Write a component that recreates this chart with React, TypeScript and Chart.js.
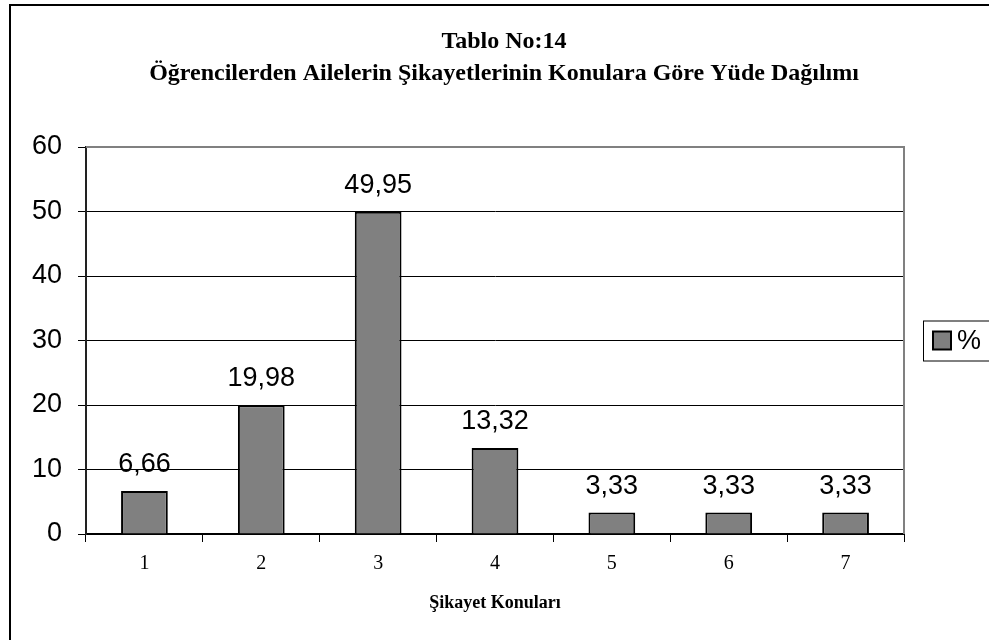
import React, { useEffect, useRef } from 'react';
import { Chart, registerables } from 'chart.js';

Chart.register(...registerables);

const categories = ['1', '2', '3', '4', '5', '6', '7'];
const values = [6.66, 19.98, 49.95, 13.32, 3.33, 3.33, 3.33];
const valueLabels = ['6,66', '19,98', '49,95', '13,32', '3,33', '3,33', '3,33'];
const seriesLabel = '%';
const titleLines = ['Tablo No:14', 'Öğrencilerden Ailelerin Şikayetlerinin Konulara Göre Yüde Dağılımı'];
const xAxisTitle = 'Şikayet Konuları';
const yMin = 0;
const yMax = 60;
const yStep = 10;

const SANS = '"Liberation Sans", Arial, sans-serif';
const SERIF = '"Liberation Serif", "Times New Roman", serif';

const extrasPlugin = {
  id: 'extras',
  beforeDatasetsDraw(chart: any) {
    const { ctx, chartArea } = chart;
    ctx.save();
    ctx.strokeStyle = '#808080';
    ctx.lineWidth = 2;
    ctx.beginPath();
    ctx.moveTo(chartArea.left, chartArea.top);
    ctx.lineTo(chartArea.right, chartArea.top);
    ctx.lineTo(chartArea.right, chartArea.bottom);
    ctx.stroke();
    ctx.restore();
  },
  afterDatasetsDraw(chart: any) {
    const { ctx } = chart;
    const meta = chart.getDatasetMeta(0);
    ctx.save();
    ctx.fillStyle = '#000';
    ctx.font = `27px ${SANS}`;
    ctx.textAlign = 'center';
    ctx.textBaseline = 'alphabetic';
    meta.data.forEach((bar: any, i: number) => {
      ctx.fillText(valueLabels[i], bar.x, bar.y - 19);
    });
    ctx.restore();
  },
  afterDraw(chart: any) {
    const { ctx, chartArea } = chart;
    const cy = (chartArea.top + chartArea.bottom) / 2;
    const bx = chartArea.right + 19;
    const by = cy - 20;
    ctx.save();
    ctx.strokeStyle = '#000';
    ctx.lineWidth = 1;
    ctx.strokeRect(bx + 0.5, by + 0.5, 120, 40);
    ctx.fillStyle = '#808080';
    ctx.fillRect(bx + 10, by + 11, 18, 18);
    ctx.lineWidth = 2;
    ctx.strokeRect(bx + 10, by + 11, 18, 18);
    ctx.fillStyle = '#000';
    ctx.font = `27px ${SANS}`;
    ctx.textAlign = 'left';
    ctx.textBaseline = 'middle';
    ctx.fillText(chart.data.datasets[0].label, bx + 34, by + 21);
    ctx.restore();
  },
};

export default function App() {
  const canvasRef = useRef<HTMLCanvasElement | null>(null);

  useEffect(() => {
    document.body.style.margin = '0';
    document.body.style.overflow = 'hidden';
    const canvas = canvasRef.current;
    if (!canvas) return;
    const chart = new Chart(canvas, {
      type: 'bar',
      data: {
        labels: categories,
        datasets: [
          {
            label: seriesLabel,
            data: values,
            backgroundColor: '#808080',
            borderColor: '#000',
            borderWidth: 2,
            barPercentage: 0.4,
            categoryPercentage: 1,
          },
        ],
      },
      options: {
        animation: false,
        responsive: false,
        maintainAspectRatio: false,
        events: [],
        layout: { padding: 0 },
        plugins: {
          legend: { display: false },
          tooltip: { enabled: false },
          title: {
            display: true,
            text: titleLines,
            color: '#000',
            font: { family: SERIF, size: 24, weight: 'bold', lineHeight: 32 / 24 },
            padding: { top: 20, bottom: 57 },
          },
        },
        scales: {
          x: {
            offset: true,
            grid: {
              offset: true,
              drawOnChartArea: false,
              drawTicks: true,
              tickLength: 8,
              color: '#000',
              lineWidth: 1,
            },
            border: { display: true, color: '#000', width: 2 },
            ticks: {
              color: '#000',
              font: { family: SERIF, size: 20 },
              padding: 10,
              maxRotation: 0,
            },
            title: {
              display: true,
              text: xAxisTitle,
              color: '#000',
              font: { family: SERIF, size: 18, weight: 'bold' },
              padding: { top: 4, bottom: 26 },
            },
            afterFit(scale: any) {
              scale.height = 106;
            },
          },
          y: {
            min: yMin,
            max: yMax,
            ticks: {
              stepSize: yStep,
              color: '#000',
              font: { family: SANS, size: 27 },
              padding: 16,
            },
            grid: {
              drawTicks: true,
              tickLength: 8,
              color: (c: any) => (c.tick && c.tick.value === yMax ? 'rgba(0,0,0,0)' : '#000'),
              tickColor: '#000',
              lineWidth: 1,
            },
            border: { display: true, color: '#222', width: 2 },
            afterFit(scale: any) {
              scale.width = 75;
            },
          },
          legendSpace: {
            axis: 'y',
            type: 'linear',
            position: 'right',
            display: true,
            grid: { drawOnChartArea: false, drawTicks: false },
            border: { display: false },
            ticks: { display: false },
            afterFit(scale: any) {
              scale.width = 93;
            },
          },
        },
      },
      plugins: [extrasPlugin],
    } as any);
    return () => chart.destroy();
  }, []);

  return (
    <div
      style={{
        position: 'absolute',
        left: 9,
        top: 4,
        width: 1000,
        height: 660,
        borderLeft: '2px solid #000',
        borderTop: '2px solid #000',
        background: '#fff',
      }}
    >
      <canvas
        ref={canvasRef}
        width={986}
        height={634}
        style={{ display: 'block', width: 986, height: 634 }}
      />
    </div>
  );
}
